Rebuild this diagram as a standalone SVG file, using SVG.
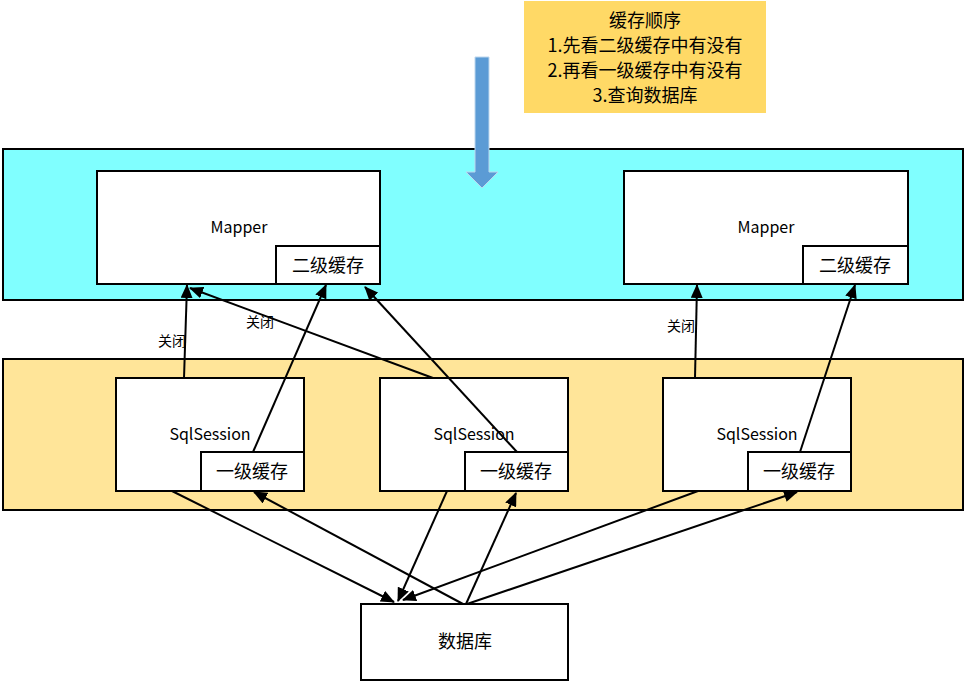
<svg xmlns="http://www.w3.org/2000/svg" width="967" height="682" viewBox="0 0 967 682">
<defs>
<marker id="ah" markerUnits="userSpaceOnUse" markerWidth="14" markerHeight="12" refX="13" refY="6" orient="auto">
<path d="M0,0 L14,6 L0,12 Z" fill="#000"/>
</marker>
</defs>
<style>
.band{stroke:#000;stroke-width:2}
.box{fill:#fff;stroke:#000;stroke-width:2}
.t{font-family:"Noto Sans CJK SC","Noto Sans",sans-serif;fill:#000;text-anchor:middle;dominant-baseline:central}
.lat{font-size:16px}
.cjk{font-size:18px}
.lbl{font-size:14px}
.c{stroke:#000;stroke-width:2;fill:none;marker-end:url(#ah)}
</style>
<rect width="967" height="682" fill="#fff"/>
<g id="band-mapper"><rect class="band" x="3" y="149" width="960" height="151" fill="#80FFFF"/></g>
<g id="band-session"><rect class="band" x="3" y="359" width="960" height="151" fill="#FFE599"/></g>
<g id="note">
<rect x="524" y="1" width="242" height="112" fill="#FFD966"/>
<text class="t cjk" x="645" y="19">缓存顺序</text>
<text class="t cjk" x="645" y="44">1.先看二级缓存中有没有</text>
<text class="t cjk" x="645" y="69">2.再看一级缓存中有没有</text>
<text class="t cjk" x="645" y="94">3.查询数据库</text>
</g>
<g id="blue-arrow">
<path d="M475,57 L489,57 L489,172 L498,172 L482,188 L466,172 L475,172 Z" fill="#5B9BD5" stroke="#BDD7EE" stroke-width="1"/>
</g>
<g id="mapper1">
<rect class="box" x="97" y="171" width="283" height="113"/>
<text class="t lat" x="239" y="226">Mapper</text>
<rect class="box" x="276" y="246" width="104" height="38"/>
<text class="t cjk" x="328" y="264">二级缓存</text>
</g>
<g id="mapper2">
<rect class="box" x="624" y="171" width="284" height="113"/>
<text class="t lat" x="766" y="226">Mapper</text>
<rect class="box" x="803" y="246" width="105" height="38"/>
<text class="t cjk" x="855" y="264">二级缓存</text>
</g>
<g id="session1">
<rect class="box" x="116" y="378" width="188" height="113"/>
<text class="t lat" x="210" y="433">SqlSession</text>
<rect class="box" x="201" y="452" width="103" height="39"/>
<text class="t cjk" x="252" y="470">一级缓存</text>
</g>
<g id="session2">
<rect class="box" x="380" y="378" width="188" height="113"/>
<text class="t lat" x="474" y="433">SqlSession</text>
<rect class="box" x="465" y="452" width="103" height="39"/>
<text class="t cjk" x="516" y="470">一级缓存</text>
</g>
<g id="session3">
<rect class="box" x="663" y="378" width="188" height="113"/>
<text class="t lat" x="757" y="433">SqlSession</text>
<rect class="box" x="748" y="452" width="103" height="39"/>
<text class="t cjk" x="799" y="470">一级缓存</text>
</g>
<g id="db">
<rect class="box" x="361" y="604" width="207" height="76"/>
<text class="t cjk" x="465" y="640">数据库</text>
</g>
<g id="connectors">
<line class="c" x1="184" y1="378" x2="187" y2="285"/>
<line class="c" x1="253" y1="452" x2="326" y2="285"/>
<line class="c" x1="433" y1="378" x2="190" y2="288"/>
<line class="c" x1="517" y1="452" x2="365" y2="287"/>
<line class="c" x1="695" y1="378" x2="697" y2="285"/>
<line class="c" x1="800" y1="452" x2="855" y2="285"/>
<line class="c" x1="172" y1="491" x2="394" y2="602"/>
<line class="c" x1="463" y1="604" x2="254" y2="492"/>
<line class="c" x1="447" y1="491" x2="398" y2="601"/>
<line class="c" x1="466" y1="604" x2="516" y2="493"/>
<line class="c" x1="698" y1="491" x2="403" y2="600"/>
<line class="c" x1="467" y1="604" x2="797" y2="492"/>
<text class="t lbl" x="172" y="340">关闭</text>
<text class="t lbl" x="260" y="321">关闭</text>
<text class="t lbl" x="681" y="325">关闭</text>
</g>
</svg>
